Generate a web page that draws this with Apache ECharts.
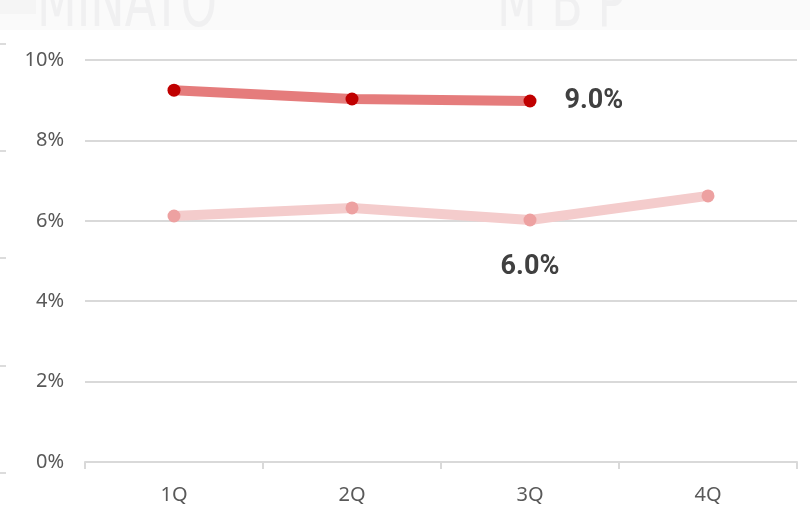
<!DOCTYPE html>
<html>
<head>
<meta charset="utf-8">
<script src="https://cdn.jsdelivr.net/npm/echarts@6/dist/echarts.min.js"></script>
<style>
    html, body { margin: 0; padding: 0; background: #ffffff; }
    #main { width: 810px; height: 520px; }
</style>
</head>
<body>
<div id="main"></div>
<script>
// quarters on the x axis
const categories = ['1Q', '2Q', '3Q', '4Q'];
// upper (dark red) series, no value for 4Q
const seriesTop = [9.25, 9.03, 8.98, null];
// lower (pink) series
const seriesBottom = [6.12, 6.32, 6.02, 6.62];
// y tick range
const yMin = 0;
const yMax = 10;
const yStep = 2;
// which point gets the value label
const labelIndex = 2;

const chart = echarts.init(document.getElementById('main'), null, { renderer: 'canvas' });

function labelAt(idx, pos, dist) {
    return {
        show: true,
        position: pos,
        distance: dist,
        formatter: function (p) {
            return p.dataIndex === idx ? p.value.toFixed(1) + '%' : '';
        },
        fontFamily: 'Roboto, "Noto Sans", sans-serif',
        fontSize: 27,
        fontWeight: 'bold',
        color: '#404040'
    };
}

function edgeMark(y) {
    return { type: 'line', z: 2, shape: { x1: 0, y1: y, x2: 6, y2: y }, style: { stroke: '#dcdcdc', lineWidth: 2 } };
}

const option = {
    backgroundColor: '#ffffff',
    animation: false,
    graphic: [
        // faded header band with watermark text, cut off at the top
        { type: 'rect', z: 0, shape: { x: 0, y: 0, width: 810, height: 30 }, style: { fill: '#fafafa' } },
        { type: 'rect', z: 0, shape: { x: 0, y: 0, width: 36, height: 14 }, style: { fill: '#f5f5f5' } },
        {
            type: 'text', z: 1, x: 37, y: -26, scaleY: 1.5,
            style: { text: 'MINATO', fill: '#f0f0f1', font: '46px "DejaVu Sans", sans-serif' }
        },
        {
            type: 'text', z: 1, x: 497, y: -26, scaleY: 1.5,
            style: { text: 'M B P', fill: '#f0f0f1', font: '46px "DejaVu Sans", sans-serif' }
        },
        { type: 'rect', z: 2, shape: { x: 0, y: 30, width: 810, height: 14 }, style: { fill: '#ffffff' } },
        // small marks on the left edge
        edgeMark(44), edgeMark(151), edgeMark(258), edgeMark(366), edgeMark(473)
    ],
    grid: {
        left: 85,
        right: 13,
        top: 60,
        bottom: 58,
        containLabel: false
    },
    xAxis: {
        type: 'category',
        data: categories,
        boundaryGap: true,
        axisLine: { show: true, lineStyle: { color: '#d9d9d9', width: 2 } },
        axisTick: { show: true, length: 7, lineStyle: { color: '#d9d9d9', width: 2 } },
        axisLabel: {
            margin: 23,
            fontFamily: '"Noto Sans", sans-serif',
            fontSize: 20,
            color: '#595959'
        },
        splitLine: { show: false }
    },
    yAxis: {
        type: 'value',
        min: yMin,
        max: yMax,
        interval: yStep,
        axisLine: { show: false },
        axisTick: { show: false },
        axisLabel: {
            margin: 21,
            formatter: '{value}%',
            fontFamily: '"Noto Sans", sans-serif',
            fontSize: 20,
            color: '#595959'
        },
        splitLine: { show: true, lineStyle: { color: '#d9d9d9', width: 2 } }
    },
    series: [
        {
            name: 'top',
            type: 'line',
            data: seriesTop,
            symbol: 'circle',
            symbolSize: 13,
            lineStyle: { color: '#e57c7c', width: 10 },
            itemStyle: { color: '#c00000' },
            label: labelAt(labelIndex, 'right', 28),
            z: 3
        },
        {
            name: 'bottom',
            type: 'line',
            data: seriesBottom,
            symbol: 'circle',
            symbolSize: 13,
            lineStyle: { color: '#f4cccc', width: 10 },
            itemStyle: { color: '#eda1a1' },
            label: labelAt(labelIndex, 'bottom', 27),
            z: 2
        }
    ]
};

chart.setOption(option);
</script>
</body>
</html>
